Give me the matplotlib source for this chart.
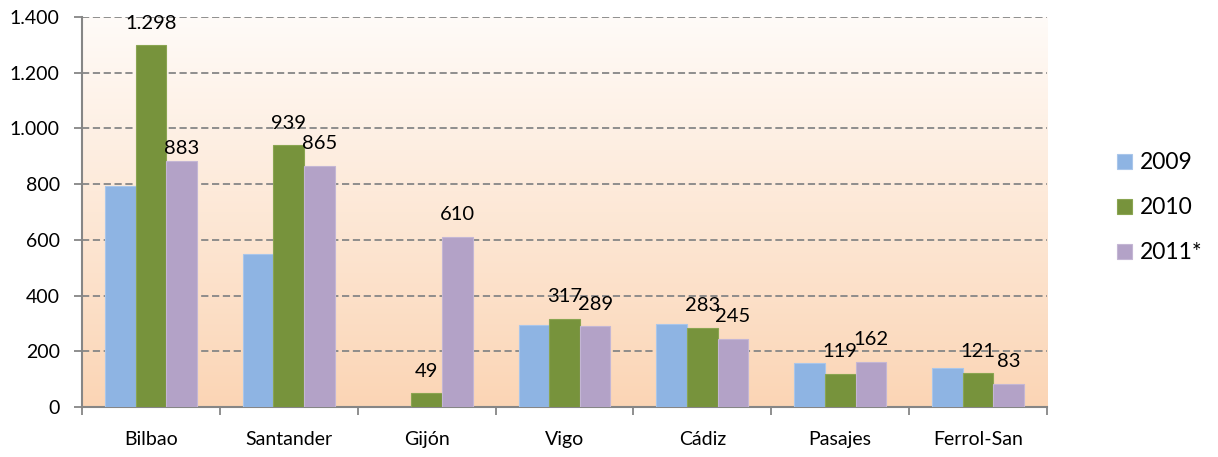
import numpy as np
import matplotlib
matplotlib.use("Agg")
import matplotlib.pyplot as plt
from matplotlib.colors import LinearSegmentedColormap
from matplotlib.ticker import FuncFormatter

ports = ["Bilbao", "Santander", "Gijón", "Vigo", "Cádiz", "Pasajes", "Ferrol-San"]
v2009 = [793, 549, np.nan, 294, 299, 158, 140]
v2010 = [1298, 939, 49, 317, 283, 119, 121]
v2011 = [883, 865, 610, 289, 245, 162, 83]
series_names = ["2009", "2010", "2011*"]
yticks = [0, 200, 400, 600, 800, 1000, 1200, 1400]

colors = ["#8EB4E3", "#77933C", "#B3A2C7"]
edges = ["#A9C6EA", "#8AA551", "#C4B6D4"]

plt.rcParams['font.family'] = ['Lato', 'DejaVu Sans']

fig = plt.figure(figsize=(12.18, 4.57), dpi=100)
ax = fig.add_axes([0.0673, 0.1094, 0.7923, 0.8534])

# gradient background
grad = LinearSegmentedColormap.from_list("bg", ["#FBD5B5", "#FFFBF8"])
ax.imshow(np.linspace(0, 1, 256).reshape(-1, 1), aspect="auto", cmap=grad,
          extent=[-0.5, 6.5, 0, 1400], origin="lower", zorder=0)

x = np.arange(len(ports))
w = 1 / 4.5
for k, vals in enumerate([v2009, v2010, v2011]):
    ax.bar(x + (k - 1) * w, vals, width=w, color=colors[k], edgecolor=edges[k],
           linewidth=0.8, label=series_names[k], zorder=3)

# data labels for 2010 and 2011* (2009 unlabeled)
def fmt(v):
    return f"{v:,.0f}".replace(",", ".")

for k, vals in [(1, v2010), (2, v2011)]:
    for i, v in enumerate(vals):
        off = 9 if (k == 2 and i == 0) else 16
        ax.annotate(fmt(v), (x[i] + (k - 1) * w, v), xytext=(0, off),
                    textcoords="offset points", ha="center", va="center",
                    fontsize=14.5, color="black", zorder=5)

ax.set_xlim(-0.5, 6.5)
ax.set_ylim(0, 1400)
ax.set_yticks(yticks)
ax.yaxis.set_major_formatter(FuncFormatter(lambda v, p: fmt(v)))
ax.set_xticks(x)
ax.set_xticklabels(ports)
ax.set_xticks(np.arange(-0.5, 7, 1), minor=True)
ax.tick_params(axis="x", which="major", length=0, pad=17, labelsize=14)
ax.tick_params(axis="x", which="minor", length=6, width=1.3, color="#868686")
ax.tick_params(axis="y", length=6, width=1.3, color="#868686", labelsize=14, pad=10)

ax.grid(axis="y", color="#868686", linestyle=(0, (4, 2)), linewidth=1.3, zorder=1)
for s in ["top", "right"]:
    ax.spines[s].set_visible(False)
for s in ["left", "bottom"]:
    ax.spines[s].set_color("#868686")
    ax.spines[s].set_linewidth(1.5)

fig.legend(loc="center left", bbox_to_anchor=(0.9, 0.545), frameon=False,
           fontsize=16.5, handlelength=0.66, handleheight=0.66, handletextpad=0.35,
           labelspacing=1.05)

fig.savefig("out.png", dpi=100)
